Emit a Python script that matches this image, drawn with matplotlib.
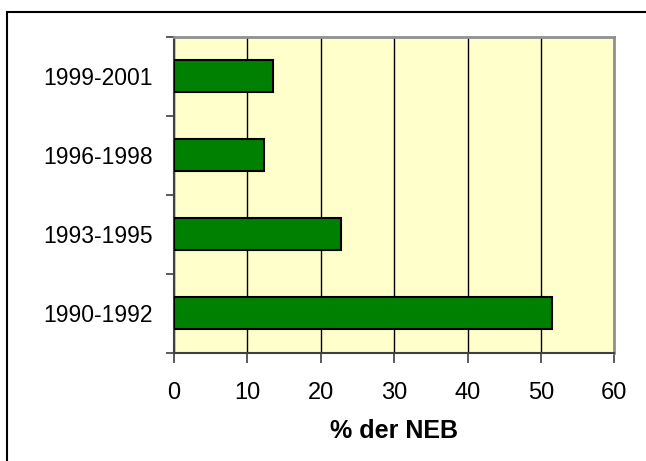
import matplotlib
matplotlib.use("Agg")
import matplotlib.pyplot as plt
from matplotlib.patches import Rectangle
import numpy as np

categories = ["1990-1992", "1993-1995", "1996-1998", "1999-2001"]
values = [51.5, 22.7, 12.2, 13.5]
xticks = [0, 10, 20, 30, 40, 50, 60]
xlabel = "% der NEB"

plt.rcParams['font.family'] = ['Liberation Sans', 'DejaVu Sans']

W, H = 646, 461
fig = plt.figure(figsize=(W / 100, H / 100), dpi=100)
fig.patch.set_facecolor("white")

# outer frame
fig.patches.append(Rectangle((7 / W, 0 - 0.05), 1.2, (H - 12) / H + 0.05,
                             transform=fig.transFigure, fill=False,
                             edgecolor="black", linewidth=1.5))

ax = fig.add_axes([174 / W, 1 - 352.7 / H, (614.3 - 174) / W, (352.7 - 36.7) / H])
ax.set_facecolor("#FFFFCC")

y = np.arange(len(categories))
ax.barh(y, values, height=0.4, color="#008000", edgecolor="black", linewidth=1.5, zorder=3)

ax.set_xlim(0, 60)
ax.set_ylim(-0.5, len(categories) - 0.5)
ax.set_xticks(xticks)
ax.set_xticklabels([str(t) for t in xticks], fontsize=17)
ax.set_yticks(y)
ax.set_yticklabels(categories, fontsize=16.5)
ax.set_yticks(np.arange(-0.5, len(categories)), minor=True)
ax.tick_params(axis="y", which="major", length=0, pad=15)
ax.tick_params(axis="y", which="minor", length=6, width=1.2, color="#404040", direction="out")
ax.tick_params(axis="x", which="major", length=7, width=1.2, color="#404040", direction="out", pad=14)

ax.xaxis.grid(True, color="black", linewidth=1, zorder=0)
ax.set_axisbelow(True)

for s in ["left", "bottom"]:
    ax.spines[s].set_color("#404040")
    ax.spines[s].set_linewidth(1.5)
for s in ["top", "right"]:
    ax.spines[s].set_color("#909090")
    ax.spines[s].set_linewidth(2)

fig.text(394 / W, 1 - 431 / H, xlabel, fontsize=18, fontweight="bold",
         ha="center", va="center")

fig.savefig("out.png", dpi=100)
